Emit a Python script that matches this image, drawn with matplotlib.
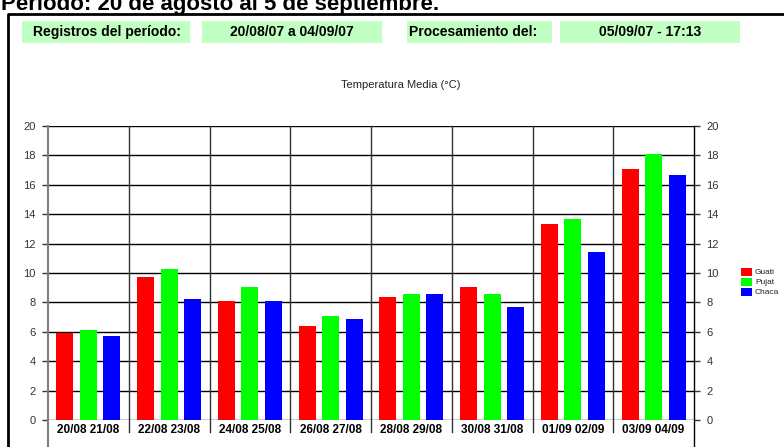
import matplotlib
matplotlib.use("Agg")
import matplotlib.pyplot as plt
from matplotlib.lines import Line2D
from matplotlib.patches import Rectangle
import numpy as np

plt.rcParams['font.family'] = ['Liberation Sans', 'DejaVu Sans']

# data
periods = ["20/08 21/08", "22/08 23/08", "24/08 25/08", "26/08 27/08",
           "28/08 29/08", "30/08 31/08", "01/09 02/09", "03/09 04/09"]
series_names = ["Guati", "Pujat", "Chaca"]
guati = [5.9, 9.7, 8.1, 6.4, 8.35, 9.05, 13.3, 17.1]
pujat = [6.1, 10.3, 9.05, 7.05, 8.55, 8.6, 13.65, 18.1]
chaca = [5.7, 8.2, 8.1, 6.9, 8.6, 7.7, 11.4, 16.7]
y_ticks = list(range(0, 21, 2))

page_title = "Período: 20 de agosto al 5 de septiembre."
header_labels = ["Registros del período:", "Procesamiento del:"]
header_values = ["20/08/07 a 04/09/07", "05/09/07 - 17:13"]
chart_title = "Temperatura Media (°C)"

colors = ["#ff0000", "#00ff00", "#0000ff"]
W, H = 784, 447


def fx(px):
    return px / W


def fy(py):
    return 1 - py / H


fig = plt.figure(figsize=(W / 100, H / 100), dpi=100)

# page header (the title is cut at the top edge, as in the original page)
fig.text(fx(1), fy(10), page_title, fontsize=16, fontweight='bold', va='baseline', ha='left')
fig.add_artist(Line2D([fx(8), fx(8), fx(W + 5)], [fy(H + 5), fy(14), fy(14)],
                      color='black', lw=2, transform=fig.transFigure))

boxes = [(22, 190), (202, 382), (407, 552), (560, 740)]
for x0, x1 in boxes:
    fig.add_artist(Rectangle((fx(x0), fy(43)), fx(x1) - fx(x0), fy(21) - fy(43),
                             transform=fig.transFigure, facecolor='#c2ffc2', edgecolor='none'))
fig.text(fx(33), fy(32), header_labels[0], fontsize=10, fontweight='bold', va='center')
fig.text(fx(409), fy(32), header_labels[1], fontsize=10, fontweight='bold', va='center')
fig.text(fx(292), fy(32), header_values[0], fontsize=10, fontweight='bold', va='center', ha='center')
fig.text(fx(650), fy(32), header_values[1], fontsize=10, fontweight='bold', va='center', ha='center')

fig.text(fx(401), fy(85), chart_title, fontsize=8, ha='center', va='center', color='#222222')

# chart
ax_l, ax_r, ax_t, ax_b = 48, 694, 126, 420
ax = fig.add_axes([fx(ax_l), fy(ax_b), fx(ax_r) - fx(ax_l), fy(ax_t) - fy(ax_b)])
x = np.arange(len(periods))
offsets = [-0.29, 0, 0.29]
for vals, off, c, name in zip([guati, pujat, chaca], offsets, colors, series_names):
    ax.bar(x + off, vals, width=0.21, color=c, label=name, zorder=3)

ax.set_xlim(-0.5, len(periods) - 0.5)
ax.set_ylim(0, 20)
ax.set_yticks(y_ticks)
ax.yaxis.grid(True, color='black', lw=1)
ax.set_axisbelow(True)
for s in ax.spines.values():
    s.set_visible(False)
ax.tick_params(axis='y', which='both', left=True, right=True, labelleft=True, labelright=True,
               length=4, width=1, color='#333333', labelsize=8, labelcolor='#333333', pad=5)
ax.set_xticks(x)
ax.set_xticklabels(periods, fontsize=8.5, fontweight='bold')
ax.tick_params(axis='x', length=0, pad=3)

for xs in x[:-1] + 0.5:
    ax.axvline(xs, ymin=-12 / (ax_b - ax_t), ymax=1, color='#333333', lw=1, clip_on=False, zorder=2)

fig.add_artist(Line2D([fx(ax_l), fx(ax_l)], [fy(ax_t), fy(H + 2)], color='#808080', lw=1.5,
                      transform=fig.transFigure))
fig.add_artist(Line2D([fx(ax_r), fx(ax_r)], [fy(ax_t), fy(H + 2)], color='black', lw=1,
                      transform=fig.transFigure))

# legend
for i, (name, c) in enumerate(zip(series_names, colors)):
    top = 268 + i * 10
    fig.add_artist(Rectangle((fx(741), fy(top + 8)), fx(11), fy(0) - fy(8),
                             transform=fig.transFigure, facecolor=c, edgecolor='none'))
    fig.text(fx(755), fy(top + 4), name, fontsize=6, va='center', ha='left', color='#222222')

fig.savefig("out.png", dpi=100)
